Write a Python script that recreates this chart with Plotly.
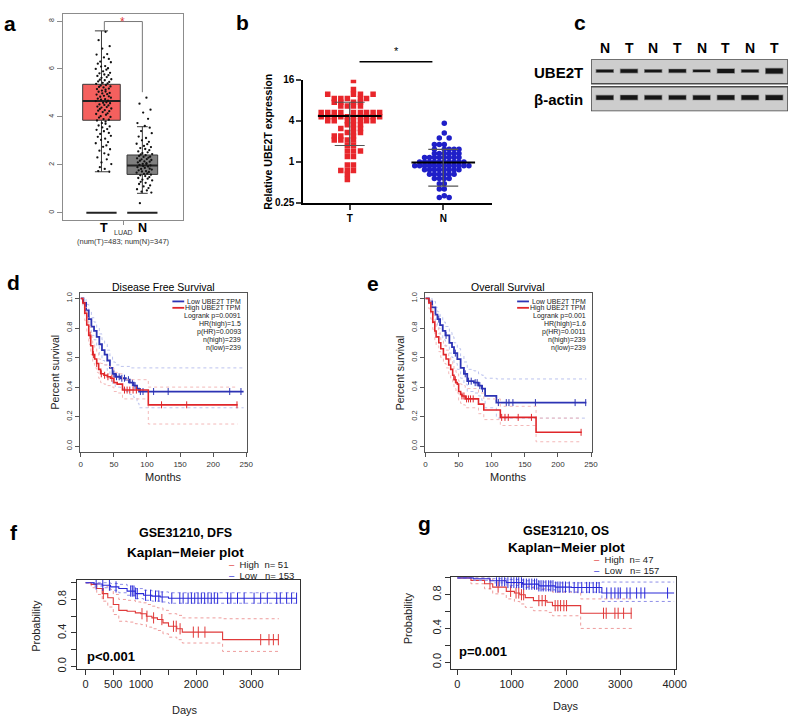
import numpy as np
import plotly.graph_objects as go

W, H = 800, 723
FONT = "Liberation Sans, Arial, sans-serif"

# ---------- a: GEPIA box plot (LUAD) ----------
a_groups = ["T", "N"]
a_pos = [1.0, 2.0]
a_q1 = [3.86, 1.60]
a_median = [4.66, 1.97]
a_q3 = [5.36, 2.41]
a_lower = [1.71, 0.81]
a_upper = [7.59, 3.59]
a_box_width = [0.92, 0.75]
a_fill = ["#F4605E", "#7f7f7f"]
a_t_expr = [7.55, 7.2, 6.95, 6.85, 6.62, 6.6, 6.48, 6.42, 6.31, 6.28, 6.22, 6.12, 6.1, 6.03, 6.0,
            5.97, 5.9, 5.84, 5.82, 5.77, 5.74, 5.71, 5.66, 5.63, 5.57, 5.55, 5.53, 5.48, 5.46, 5.42,
            5.4, 5.38, 5.33, 5.31, 5.27, 5.25, 5.23, 5.18, 5.16, 5.14, 5.1, 5.06, 5.05, 5.0, 4.98,
            4.95, 4.93, 4.88, 4.86, 4.84, 4.8, 4.76, 4.74, 4.72, 4.68, 4.66, 4.61, 4.59, 4.57, 4.52,
            4.5, 4.48, 4.43, 4.41, 4.39, 4.35, 4.33, 4.28, 4.26, 4.24, 4.2, 4.15, 4.12, 4.09, 4.03,
            4.0, 3.97, 3.91, 3.88, 3.85, 3.8, 3.74, 3.71, 3.64, 3.6, 3.56, 3.49, 3.46, 3.4, 3.33,
            3.29, 3.21, 3.17, 3.09, 3.04, 2.95, 2.9, 2.81, 2.75, 2.65, 2.59, 2.48, 2.42, 2.31, 2.23,
            2.1, 2.03, 1.9, 1.83, 1.74, 1.71]
a_n_expr = [4.8, 4.55, 4.3, 4.18, 3.92, 3.74, 3.62, 3.55, 3.41, 3.32, 3.18, 3.12, 3.02, 2.96,
            2.88, 2.86, 2.79, 2.74, 2.7, 2.66, 2.61, 2.56, 2.52, 2.49, 2.45, 2.43, 2.4, 2.37,
            2.34, 2.33, 2.3, 2.27, 2.24, 2.23, 2.2, 2.17, 2.14, 2.13, 2.1, 2.07, 2.04, 2.03,
            2.0, 1.98, 1.95, 1.93, 1.9, 1.87, 1.84, 1.83, 1.8, 1.77, 1.74, 1.72, 1.7, 1.67,
            1.64, 1.62, 1.59, 1.56, 1.53, 1.49, 1.45, 1.42, 1.38, 1.35, 1.29, 1.25, 1.2, 1.14,
            1.1, 1.03, 0.98, 0.93, 0.88, 0.84, 0.4]
a_jitter = [0.05, -0.12, 0.15, -0.03, 0.09, -0.17, 0.01, 0.13, -0.08, 0.18, -0.14, 0.04, -0.06,
            0.11, -0.19, 0.07, -0.01, 0.16, -0.10, 0.02, 0.12, -0.15, 0.08, -0.05, 0.19, -0.09,
            0.03, -0.13, 0.14, -0.02, 0.10, -0.18, 0.06, -0.07, 0.17, -0.11, 0.00, 0.13, -0.16,
            0.05, -0.04]

# ---------- b: qPCR scatter (log2 axis) ----------
b_groups = ["T", "N"]
b_t_levels = [15.6, 11.5, 9.8, 8.5, 7.5, 6.6, 5.3, 4.6, 4.0, 3.5, 3.1, 2.7, 2.4, 2.1, 1.75, 1.45,
              1.2, 0.9, 0.75, 0.66, 0.55]
b_t_cols = [[0.04], [0.04], [-0.235, 0.04, 0.115, 0.25], [-0.165, -0.095, -0.025, 0.115, 0.18],
            [-0.165, -0.095, 0.04, 0.115], [-0.095, -0.025, 0.04, 0.115],
            [-0.305, -0.235, -0.165, -0.095, 0.04, 0.115, 0.18, 0.25, 0.32],
            [-0.305, -0.235, -0.165, -0.095, -0.025, 0.04, 0.115, 0.18, 0.25, 0.32],
            [-0.235, -0.165, -0.025, 0.04, 0.115, 0.18, 0.25], [-0.025, 0.04, 0.115],
            [-0.095, 0.04, 0.115], [-0.025, 0.04, 0.115], [-0.165, -0.095, 0.04],
            [-0.165, -0.095, -0.025, 0.04], [-0.025, 0.04], [-0.025, 0.04, 0.115],
            [-0.025, 0.04], [-0.025, 0.04], [-0.095, -0.025, 0.04], [-0.025], [-0.025]]
b_n_levels = [3.7, 2.66, 2.25, 1.8, 1.53, 1.33, 1.16, 1.0, 0.88, 0.77, 0.66, 0.57, 0.48, 0.40,
              0.32, 0.30]
b_n_cols = [[0.011], [0.011], [-0.042, 0.063], [-0.095, -0.042, 0.011],
            [-0.095, 0.011, 0.063, 0.116, 0.168], [-0.095, -0.042, 0.011, 0.063, 0.116, 0.168],
            [-0.2, -0.147, -0.095, -0.042, 0.011, 0.063, 0.116, 0.168],
            [-0.253, -0.2, -0.147, -0.095, -0.042, 0.011, 0.063, 0.116, 0.168, 0.221],
            [-0.305, -0.253, -0.2, -0.147, -0.095, -0.042, 0.011, 0.063, 0.116, 0.168, 0.221, 0.274],
            [-0.2, -0.147, -0.095, -0.042, 0.011, 0.063, 0.116, 0.168],
            [-0.147, -0.095, -0.042, 0.011, 0.063, 0.116], [-0.095, -0.042, 0.011, 0.063],
            [-0.042, 0.011], [-0.042, 0.011], [0.011], [-0.042, 0.063]]
b_mean = [4.7, 0.98]
b_sd_hi = [7.5, 1.53]
b_sd_lo = [1.74, 0.44]

# ---------- c: western blot ----------
c_lanes = ["N", "T", "N", "T", "N", "T", "N", "T"]
c_ube2t = [2.6, 3.6, 2.6, 3.3, 2.3, 4.0, 2.5, 5.0]
c_actin = [4.3, 4.5, 4.1, 4.1, 4.3, 4.5, 4.5, 4.8]

# ---------- d: GEPIA disease free survival (months) ----------
d_low_t = [0, 4, 8, 12, 16, 20, 24, 28, 32, 36, 40, 44, 48, 52, 60, 68, 74, 80, 85, 88, 246]
d_low_s = [1.0, 0.97, 0.92, 0.86, 0.81, 0.78, 0.74, 0.69, 0.65, 0.62, 0.58, 0.53, 0.49, 0.47,
           0.46, 0.45, 0.43, 0.41, 0.39, 0.37, 0.37]
d_low_hi = [1.0, 1.0, 0.96, 0.91, 0.87, 0.84, 0.80, 0.76, 0.72, 0.69, 0.65, 0.61, 0.57, 0.55,
            0.54, 0.54, 0.53, 0.53, 0.53, 0.53, 0.53]
d_low_lo = [1.0, 0.94, 0.88, 0.81, 0.75, 0.72, 0.68, 0.62, 0.58, 0.55, 0.51, 0.46, 0.42, 0.40,
            0.39, 0.37, 0.35, 0.33, 0.29, 0.26, 0.26]
d_low_cens = [50, 54, 58, 62, 66, 72, 78, 82, 90, 94, 110, 132, 225, 242]
d_high_t = [0, 3, 6, 9, 12, 15, 18, 21, 24, 27, 30, 35, 40, 45, 50, 55, 63, 102, 237]
d_high_s = [1.0, 0.97, 0.90, 0.82, 0.75, 0.68, 0.62, 0.59, 0.56, 0.52, 0.49, 0.48, 0.47, 0.46,
            0.43, 0.42, 0.38, 0.28, 0.28]
d_high_hi = [1.0, 1.0, 0.94, 0.87, 0.81, 0.74, 0.69, 0.66, 0.63, 0.59, 0.56, 0.55, 0.54, 0.53,
             0.50, 0.49, 0.45, 0.40, 0.40]
d_high_lo = [1.0, 0.94, 0.85, 0.77, 0.69, 0.62, 0.56, 0.53, 0.50, 0.46, 0.43, 0.42, 0.41, 0.40,
             0.37, 0.36, 0.32, 0.15, 0.15]
d_high_cens = [14, 19, 24, 31, 36, 41, 47, 66, 70, 74, 79, 84, 122, 160, 236]
d_legend = ["Low UBE2T TPM", "High UBE2T TPM", "Logrank p=0.0091", "HR(high)=1.5",
            "p(HR)=0.0093", "n(high)=239", "n(low)=239"]

# ---------- e: GEPIA overall survival (months) ----------
e_low_t = [0, 5, 10, 15, 18, 22, 26, 30, 36, 40, 43, 48, 53, 58, 63, 73, 80, 85, 90, 107, 243]
e_low_s = [1.0, 0.98, 0.94, 0.89, 0.86, 0.82, 0.78, 0.75, 0.70, 0.67, 0.63, 0.59, 0.53, 0.49,
           0.44, 0.43, 0.41, 0.39, 0.34, 0.295, 0.295]
e_low_hi = [1.0, 1.0, 0.98, 0.94, 0.91, 0.88, 0.84, 0.81, 0.77, 0.74, 0.70, 0.66, 0.61, 0.57,
            0.52, 0.51, 0.49, 0.48, 0.46, 0.455, 0.455]
e_low_lo = [1.0, 0.96, 0.90, 0.84, 0.80, 0.76, 0.72, 0.68, 0.63, 0.60, 0.56, 0.52, 0.46, 0.42,
            0.37, 0.36, 0.34, 0.31, 0.26, 0.19, 0.19]
e_low_cens = [20, 31, 45, 60, 65, 69, 75, 78, 82, 86, 110, 122, 126, 132, 166, 226, 242]
e_high_t = [0, 5, 8, 11, 14, 16, 20, 23, 27, 31, 35, 38, 41, 43, 46, 48, 50, 53, 55, 60, 80, 88,
            113, 167, 236]
e_high_s = [1.0, 0.97, 0.91, 0.84, 0.78, 0.74, 0.70, 0.66, 0.62, 0.59, 0.55, 0.52, 0.48, 0.45,
            0.43, 0.42, 0.37, 0.35, 0.34, 0.32, 0.285, 0.245, 0.195, 0.094, 0.094]
e_high_hi = [1.0, 1.0, 0.95, 0.89, 0.84, 0.80, 0.76, 0.72, 0.68, 0.65, 0.61, 0.58, 0.55, 0.52,
             0.50, 0.49, 0.44, 0.42, 0.41, 0.39, 0.36, 0.32, 0.27, 0.19, 0.19]
e_high_lo = [1.0, 0.93, 0.86, 0.79, 0.72, 0.68, 0.64, 0.60, 0.56, 0.53, 0.49, 0.46, 0.42, 0.39,
             0.37, 0.36, 0.31, 0.29, 0.28, 0.26, 0.22, 0.18, 0.14, 0.03, 0.03]
e_high_cens = [45, 55, 58, 62, 65, 68, 72, 115, 120, 125, 140, 160, 235]
e_legend = ["Low UBE2T TPM", "High UBE2T TPM", "Logrank p=0.001", "HR(high)=1.6",
            "p(HR)=0.0011", "n(high)=239", "n(low)=239"]

# ---------- f: GSE31210 DFS (days) ----------
f_low_t = [0, 150, 300, 450, 600, 750, 900, 1050, 1200, 1350, 1500, 3820]
f_low_s = [1.0, 0.985, 0.97, 0.95, 0.93, 0.90, 0.87, 0.85, 0.84, 0.83, 0.815, 0.815]
f_low_hi = [1.0, 1.0, 1.0, 0.99, 0.98, 0.96, 0.93, 0.91, 0.90, 0.89, 0.88, 0.88]
f_low_lo = [1.0, 0.96, 0.94, 0.91, 0.88, 0.85, 0.81, 0.79, 0.78, 0.77, 0.755, 0.755]
f_low_cens = [190, 310, 430, 550, 815, 845, 875, 905, 935, 1085, 1175, 1265, 1325, 1385, 1560,
              1705, 1765, 1855, 1915, 1975, 2035, 2095, 2155, 2215, 2275, 2330, 2390, 2570, 2630,
              2750, 2870, 3050, 3170, 3290, 3460, 3525, 3640, 3730, 3820]
f_high_t = [0, 100, 200, 300, 400, 500, 600, 750, 900, 1000, 1100, 1200, 1300, 1400, 1500, 1650,
            1750, 2480, 3500]
f_high_s = [1.0, 0.98, 0.93, 0.87, 0.82, 0.74, 0.67, 0.66, 0.64, 0.63, 0.60, 0.58, 0.56, 0.52,
            0.48, 0.45, 0.41, 0.32, 0.32]
f_high_hi = [1.0, 1.0, 0.99, 0.96, 0.92, 0.86, 0.80, 0.79, 0.77, 0.76, 0.74, 0.72, 0.70, 0.67,
             0.63, 0.61, 0.58, 0.57, 0.57]
f_high_lo = [1.0, 0.94, 0.86, 0.78, 0.71, 0.62, 0.54, 0.53, 0.51, 0.50, 0.47, 0.45, 0.43, 0.39,
             0.35, 0.32, 0.28, 0.18, 0.18]
f_high_cens = [320, 1020, 1110, 1230, 1380, 1590, 1640, 1710, 1950, 2040, 2160, 3170, 3320,
               3400, 3490]
f_legend = ["High\u00a0\u00a0n= 51", "Low\u00a0\u00a0\u00a0n= 153"]

# ---------- g: GSE31210 OS (days) ----------
g_low_t = [0, 300, 600, 900, 1200, 1500, 1800, 2100, 2660, 3990]
g_low_s = [1.0, 0.99, 0.965, 0.945, 0.925, 0.905, 0.89, 0.885, 0.82, 0.82]
g_low_hi = [1.0, 1.0, 0.99, 0.98, 0.965, 0.95, 0.94, 0.94, 0.95, 0.95]
g_low_lo = [1.0, 0.97, 0.94, 0.91, 0.885, 0.86, 0.84, 0.83, 0.72, 0.72]
g_low_cens = [720, 770, 820, 870, 930, 990, 1040, 1090, 1130, 1180, 1220, 1270, 1320, 1370, 1420,
              1460, 1500, 1540, 1580, 1630, 1680, 1720, 1760, 1810, 1850, 1890, 1940, 1990, 2060,
              2150, 2220, 2290, 2380, 2430, 2500, 2560, 2610, 2750, 2830, 2900, 2960, 3000, 3120,
              3180, 3300, 3380, 3450, 3870]
g_high_t = [0, 250, 500, 650, 900, 1050, 1150, 1250, 1400, 1650, 1750, 2270, 3210]
g_high_s = [1.0, 0.97, 0.93, 0.89, 0.84, 0.82, 0.80, 0.765, 0.73, 0.71, 0.67, 0.58, 0.58]
g_high_hi = [1.0, 1.0, 0.99, 0.97, 0.94, 0.93, 0.92, 0.90, 0.87, 0.86, 0.83, 0.75, 0.75]
g_high_lo = [1.0, 0.93, 0.87, 0.81, 0.75, 0.72, 0.69, 0.65, 0.61, 0.59, 0.55, 0.40, 0.40]
g_high_cens = [600, 750, 980, 1080, 1130, 1180, 1220, 1500, 1560, 1620, 1800, 1850, 1900, 1960,
               2010, 2690, 2740, 2900, 2960, 3060, 3200]
g_legend = ["High\u00a0\u00a0n= 47", "Low\u00a0\u00a0\u00a0n= 157"]


def xd(a, b):
    return [a / W, b / W]


def yd(top, bot):
    return [1 - bot / H, 1 - top / H]


ann = []
shapes = []


def note(x, y, text, size, bold=False, angle=0, anchor="center", color="black"):
    if bold:
        text = "<b>" + text + "</b>"
    ann.append(dict(x=x / W, y=1 - y / H, xref="paper", yref="paper", text=text, showarrow=False,
                    font=dict(family=FONT, size=size, color=color), textangle=angle,
                    xanchor=anchor, yanchor="middle"))


fig = go.Figure()

# ---- a ----
for i in range(2):
    fig.add_trace(go.Box(x=[a_pos[i]], q1=[a_q1[i]], median=[a_median[i]], q3=[a_q3[i]],
                         lowerfence=[a_lower[i]], upperfence=[a_upper[i]], orientation="v",
                         width=a_box_width[i], whiskerwidth=0.35, fillcolor=a_fill[i],
                         line=dict(color="#3a3a3a", width=1), boxpoints=False,
                         xaxis="x", yaxis="y", hoverinfo="skip"))
    hw = a_box_width[i] / 2
    fig.add_trace(go.Scatter(x=[a_pos[i] - hw, a_pos[i] + hw], y=[a_median[i]] * 2, mode="lines",
                             line=dict(color="#222", width=2), xaxis="x", yaxis="y"))
    fig.add_trace(go.Scatter(x=[a_pos[i] - 0.37, a_pos[i] + 0.37], y=[0, 0], mode="lines",
                             line=dict(color="#222", width=2), xaxis="x", yaxis="y"))
for i, vals in enumerate([a_t_expr, a_n_expr]):
    xs = [a_pos[i] + 0.05 + a_jitter[k % len(a_jitter)] for k in range(len(vals))]
    fig.add_trace(go.Scatter(x=xs, y=vals, mode="markers", marker=dict(size=2.3, color="#111"),
                             xaxis="x", yaxis="y"))
a_sig = 7.98
fig.add_trace(go.Scatter(x=[a_pos[0] + 0.07, a_pos[0] + 0.07, a_pos[1], a_pos[1]],
                         y=[a_upper[0], a_sig, a_sig, 5.03], mode="lines",
                         line=dict(color="#777", width=1), xaxis="x", yaxis="y"))
ann.append(dict(x=1.52, y=a_sig, xref="x", yref="y", text="*", showarrow=False,
                font=dict(family=FONT, size=12, color="#e03a3a"), yanchor="middle"))

# ---- b ----
b_colors = ["#e8262b", "#1f1fc8"]
b_symbols = ["square", "circle"]
for i, (levels, cols) in enumerate([(b_t_levels, b_t_cols), (b_n_levels, b_n_cols)]):
    xs, ys = [], []
    for lev, row in zip(levels, cols):
        for off in row:
            xs.append(i + off)
            ys.append(lev)
    fig.add_trace(go.Scatter(x=xs, y=ys, mode="markers",
                             marker=dict(symbol=b_symbols[i], size=5.5, color=b_colors[i]),
                             xaxis="x2", yaxis="y2"))
for i in range(2):
    fig.add_trace(go.Scatter(x=[i - 0.34, i + 0.34], y=[b_mean[i]] * 2, mode="lines",
                             line=dict(color="black", width=2), xaxis="x2", yaxis="y2"))
    fig.add_trace(go.Scatter(x=[i - 0.16, i + 0.16, None, i - 0.16, i + 0.16, None, i, i],
                             y=[b_sd_hi[i], b_sd_hi[i], None, b_sd_lo[i], b_sd_lo[i], None,
                                b_sd_lo[i], b_sd_hi[i]],
                             mode="lines", line=dict(color="#555", width=1.2),
                             xaxis="x2", yaxis="y2"))
shapes.append(dict(type="line", xref="x2", yref="paper", x0=0.105, x1=0.884,
                   y0=1 - 57.7 / H, y1=1 - 57.7 / H, line=dict(color="black", width=1.5)))
ann.append(dict(x=0.5, y=1 - 47 / H, xref="x2", yref="paper", text="*", showarrow=False,
                font=dict(family=FONT, size=11, color="black"), yanchor="middle"))

# ---- c ----
lane_x = list(range(1, len(c_lanes) + 1))
for y0, y1 in [(28, 53), (0, 25)]:
    shapes.append(dict(type="rect", xref="x3", yref="y3", x0=0.43, x1=8.57, y0=y0, y1=y1,
                       fillcolor="#cdcdcd", line=dict(color="#4a4a4a", width=1.5), layer="below"))
for center, thick in [(41, c_ube2t), (14, c_actin)]:
    halo = [t + 1.4 for t in thick]
    fig.add_trace(go.Bar(x=lane_x, y=halo, base=[center - h / 2 for h in halo], width=0.76,
                         marker=dict(color="#8a8a8a", line=dict(width=0)),
                         xaxis="x3", yaxis="y3"))
    fig.add_trace(go.Bar(x=lane_x, y=thick, base=[center - t / 2 for t in thick], width=0.7,
                         marker=dict(color="#161616", line=dict(width=0)),
                         xaxis="x3", yaxis="y3"))


# ---- KM panels ----
def km(ax, t, s, hi, lo, cens, color, ci_color, width, csize):
    xa, ya = "x" + ax, "y" + ax
    for band in (hi, lo):
        fig.add_trace(go.Scatter(x=t, y=band, mode="lines", line_shape="hv",
                                 line=dict(color=ci_color, width=1, dash="dot"),
                                 xaxis=xa, yaxis=ya))
    fig.add_trace(go.Scatter(x=t, y=s, mode="lines", line_shape="hv",
                             line=dict(color=color, width=width), xaxis=xa, yaxis=ya))
    idx = np.searchsorted(np.array(t), np.array(cens), side="right") - 1
    fig.add_trace(go.Scatter(x=cens, y=[s[k] for k in idx], mode="markers",
                             marker=dict(symbol="line-ns", size=csize,
                                         line=dict(color=color, width=1)),
                             xaxis=xa, yaxis=ya))


BLUE_D, RED_D = "#2c33b4", "#e0262a"
km("4", d_low_t, d_low_s, d_low_hi, d_low_lo, d_low_cens, BLUE_D, "#bcc3ee", 1.8, 5)
km("4", d_high_t, d_high_s, d_high_hi, d_high_lo, d_high_cens, RED_D, "#f3b9b9", 1.6, 5)
km("5", e_low_t, e_low_s, e_low_hi, e_low_lo, e_low_cens, BLUE_D, "#bcc3ee", 1.8, 5)
km("5", e_high_t, e_high_s, e_high_hi, e_high_lo, e_high_cens, RED_D, "#f3b9b9", 1.6, 5)
BLUE_F, RED_F = "#2a2ad8", "#e03a3a"
km("6", f_high_t, f_high_s, f_high_hi, f_high_lo, f_high_cens, RED_F, "#ee9c9c", 1.1, 8)
km("6", f_low_t, f_low_s, f_low_hi, f_low_lo, f_low_cens, BLUE_F, "#8f8fe8", 1.1, 8)
km("7", g_high_t, g_high_s, g_high_hi, g_high_lo, g_high_cens, RED_F, "#ee9c9c", 1.1, 8)
km("7", g_low_t, g_low_s, g_low_hi, g_low_lo, g_low_cens, BLUE_F, "#8f8fe8", 1.1, 8)


# ---- axes ----
def tf(size, color="#222"):
    return dict(family=FONT, size=size, color=color)


base = dict(showgrid=False, zeroline=False)
axes = {}
axes["xaxis"] = {**base, **dict(domain=xd(63, 185), range=[0.06, 3.0], anchor="y", showline=True,
                 mirror=True, linecolor="#8c8c8c", tickvals=[1.55], ticktext=[""],
                 ticks="outside", ticklen=4, tickcolor="#8c8c8c")}
axes["yaxis"] = {**base, **dict(domain=yd(9, 218), range=[-0.29, 8.3], anchor="x", showline=True,
                 mirror=True, linecolor="#8c8c8c", tickvals=[0, 2, 4, 6, 8], tickangle=-90,
                 ticks="outside", ticklen=5, tickcolor="#8c8c8c", tickfont=tf(7, "#333"))}
bfont = dict(family=FONT, size=10, color="black", weight="bold")
axes["xaxis2"] = {**base, **dict(domain=xd(307, 498), range=[-0.495, 1.516], anchor="y2",
                  showline=True, linecolor="black", linewidth=2, tickvals=[0, 1],
                  ticktext=b_groups, ticks="outside", ticklen=5, tickwidth=2, tickfont=bfont)}
axes["yaxis2"] = {**base, **dict(domain=yd(76, 201), type="log",
                  range=[np.log10(0.25), np.log10(16)], anchor="x2", showline=True,
                  linecolor="black", linewidth=2, tickvals=[0.25, 1, 4, 16],
                  ticktext=["0.25", "1", "4", "16"], ticks="outside", ticklen=5, tickwidth=2,
                  tickfont=bfont)}
axes["xaxis3"] = {**base, **dict(domain=xd(599, 799), range=[0.43, 8.57], anchor="y3",
                  visible=False)}
axes["yaxis3"] = {**base, **dict(domain=yd(55, 108), range=[0, 53], anchor="x3", visible=False)}
km_y = dict(tickvals=[0, 0.2, 0.4, 0.6, 0.8, 1.0],
            ticktext=["0.0", "0.2", "0.4", "0.6", "0.8", "1.0"])
for n, (x0, x1) in [("4", (80, 250)), ("5", (430, 600))]:
    axes["xaxis" + n] = {**base, **dict(domain=xd(x0, x1), range=[-1.5, 251.5], anchor="y" + n,
                         showline=True, mirror=True, linecolor="#555",
                         tickvals=[0, 50, 100, 150, 200, 250], ticks="outside", ticklen=4,
                         tickcolor="#555", tickfont=tf(8, "#333"))}
    axes["yaxis" + n] = {**base, **km_y, **dict(domain=yd(292, 454), range=[-0.04, 1.04],
                         anchor="x" + n, showline=True, mirror=True, linecolor="#555",
                         tickangle=-90, ticks="outside", ticklen=4, tickcolor="#555",
                         tickfont=tf(7.5, "#333"))}
fy = dict(tickvals=[0, 0.2, 0.4, 0.6, 0.8, 1.0], ticktext=["0.0", "", "0.4", "", "0.8", ""],
          tickangle=-90, ticks="outside", ticklen=5, showline=True, mirror=True,
          linecolor="#333", tickcolor="#333", tickfont=tf(11, "#222"))
axes["xaxis6"] = {**base, **dict(domain=xd(77, 304), range=[-160, 3890], anchor="y6",
                  showline=True, mirror=True, linecolor="#333", ticks="outside", ticklen=5,
                  tickcolor="#333", tickvals=[0, 500, 1000, 1500, 2000, 2500, 3000, 3500],
                  ticktext=["0", "500", "1000", "", "2000", "", "3000", ""],
                  tickfont=tf(11, "#222"))}
axes["yaxis6"] = {**base, **fy, **dict(domain=yd(584, 674), range=[-0.027, 1.031], anchor="x6")}
axes["xaxis7"] = {**base, **dict(domain=xd(457, 685), range=[-115, 4020], anchor="y7",
                  showline=True, mirror=True, linecolor="#333", ticks="outside", ticklen=5,
                  tickcolor="#333", tickvals=[0, 1000, 2000, 3000, 4000],
                  tickfont=tf(11, "#222"))}
axes["yaxis7"] = {**base, **fy, **dict(domain=yd(581, 674), range=[-0.078, 1.008], anchor="x7")}

# ---- text ----
for lab, x, y in [("a", 9, 19), ("b", 245, 18), ("c", 588, 18), ("d", 13, 282), ("e", 378, 283),
                  ("f", 13, 536), ("g", 430, 527)]:
    note(x, y, lab, 21, bold=True)
# a
note(105, 226, a_groups[0], 12.5, bold=True)
note(143.5, 226, a_groups[1], 12.5, bold=True)
note(124, 231.5, "LUAD", 7, color="#333")
note(124, 240, "(num(T)=483; num(N)=347)", 7.5, color="#333")
# b
note(271, 139, "Relative UBE2T expression", 10.5, bold=True, angle=-90)
# c
for i, lab in enumerate(c_lanes):
    ann.append(dict(x=lane_x[i], y=1 - 44 / H, xref="x3", yref="paper", text="<b>" + lab + "</b>",
                    showarrow=False, font=tf(14, "black"), yanchor="middle"))
note(593, 69, "UBE2T", 15, bold=True, anchor="right")
note(593, 96, "β-actin", 15, bold=True, anchor="right")
# d / e
for x_mid, x_lab, x_leg, title, legend in [(165, 55, 246, "Disease Free Survival", d_legend),
                                           (515, 405, 596, "Overall Survival", e_legend)]:
    note(x_mid, 286, title, 10.5)
    note(x_mid, 479, "Months", 11, color="#222")
    note(x_lab, 373, "Percent survival", 10.5, angle=-90, color="#222")
    for txt, y in zip(legend, [301, 307.5, 315.5, 324, 332, 340, 348.5]):
        note(x_leg, y, txt, 7, anchor="right", color="#222")
    for col, y in [(BLUE_D, 301), (RED_D, 307.5)]:
        shapes.append(dict(type="line", xref="paper", yref="paper", x0=(x_leg - 72) / W,
                           x1=(x_leg - 60) / W, y0=1 - y / H, y1=1 - y / H,
                           line=dict(color=col, width=1.8)))
# f / g
for x_mid, title, y_t1, y_t2, x_leg, y_leg, legend, pval, px_, py_, x_prob, y_prob, y_days in [
        (187, "GSE31210, DFS", 536, 556, 229, (568, 579), f_legend, "p<0.001", 85, 662, 36, 630, 716),
        (574, "GSE31210, OS", 534, 551, 600, (563, 574), g_legend, "p=0.001", 463, 656, 413, 623, 712)]:
    note(x_mid, y_t1, title, 12.5, bold=True)
    note(x_mid, y_t2, "Kaplan\u2212Meier plot", 13.5, bold=True)
    for txt, y, col in zip(legend, y_leg, [RED_F, BLUE_F]):
        note(x_leg, y, "<span style='color:%s'>\u2013</span>\u00a0\u00a0%s" % (col, txt), 9.5,
             anchor="left", color="#222")
    note(px_, py_, pval, 13, bold=True, anchor="left")
    note(x_prob, y_prob, "Probability", 11, angle=-90, color="#222")
    note(x_mid, y_days, "Days", 11, color="#222")

fig.update_layout(width=W, height=H, margin=dict(l=0, r=0, t=0, b=0), showlegend=False,
                  paper_bgcolor="white", plot_bgcolor="white", barmode="overlay",
                  font=dict(family=FONT), annotations=ann, shapes=shapes, **axes)
fig.update_traces(hoverinfo="skip")
fig.write_html("out.html", config={"displayModeBar": False},
               post_script="document.body.style.margin='0';"
                           "document.body.style.overflow='hidden';")
